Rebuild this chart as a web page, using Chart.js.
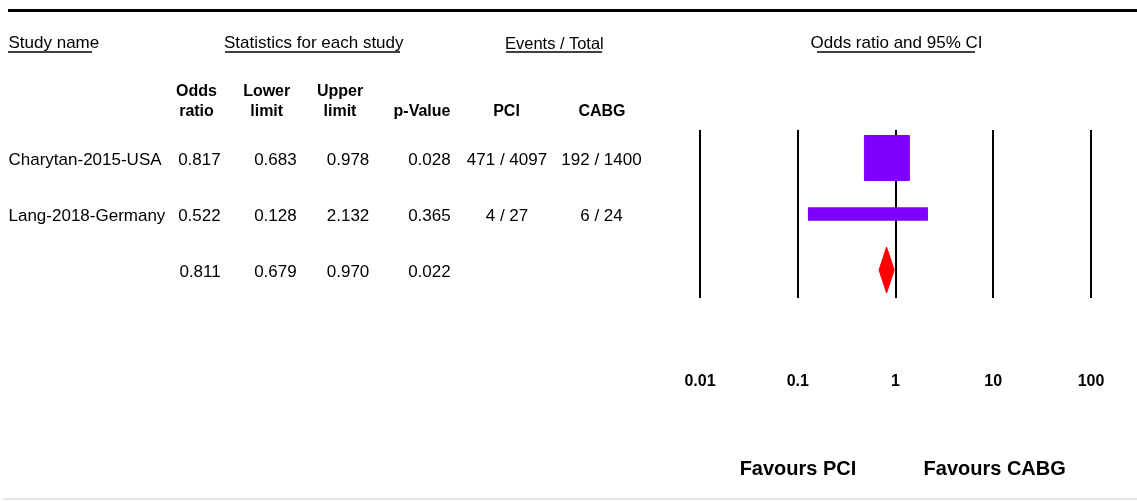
<!DOCTYPE html>
<html>
<head>
<meta charset="utf-8">
<title>Odds ratio forest plot: PCI vs CABG</title>
<script src="https://cdn.jsdelivr.net/npm/chart.js@4.4.1/dist/chart.umd.min.js"></script>
<style>
  html, body { margin: 0; padding: 0; background: #fff; }
  #wrap { position: relative; width: 1137px; height: 501px; overflow: hidden;
          font-family: "Liberation Sans", Arial, sans-serif; color: #000; }
  #plot { position: absolute; left: 0; top: 0; }
  .t { position: absolute; white-space: nowrap; line-height: 1; }
  .rule { position: absolute; }
</style>
</head>
<body>
<div id="wrap"><canvas id="plot" width="1137" height="501"></canvas></div>
<script>
// ---- study-level data ----
const studies     = ['Charytan-2015-USA', 'Lang-2018-Germany'];
const oddsRatio   = [0.817, 0.522];
const lowerLimit  = [0.683, 0.128];
const upperLimit  = [0.978, 2.132];
const pValue      = [0.028, 0.365];
const pciEvents   = [471, 4];
const pciTotal    = [4097, 27];
const cabgEvents  = [192, 6];
const cabgTotal   = [1400, 24];

// ---- pooled (fixed-effect) estimate ----
const pooledOR    = 0.811;
const pooledLower = 0.679;
const pooledUpper = 0.970;
const pooledP     = 0.022;

// ---- axis ----
const axisTicks   = [0.01, 0.1, 1, 10, 100];
const tickLabels  = ['0.01', '0.1', '1', '10', '100'];
const groups      = ['PCI', 'CABG'];

const W = 1137;
const wrap = document.getElementById('wrap');

function put(text, x, cy, opts = {}) {
  const size = opts.size || 17;
  const d = document.createElement('div');
  d.className = 't';
  d.textContent = text;
  d.style.fontSize = size + 'px';
  if (opts.bold) d.style.fontWeight = 'bold';
  d.style.top = (cy - 0.49 * size) + 'px';
  const align = opts.align || 'left';
  if (align === 'left') d.style.left = x + 'px';
  else if (align === 'right') d.style.right = (W - x) + 'px';
  else { d.style.left = x + 'px'; d.style.transform = 'translateX(-50%)'; }
  wrap.appendChild(d);
  return d;
}
function rule(x, y, w, h, color) {
  const d = document.createElement('div');
  d.className = 'rule';
  Object.assign(d.style, { left: x + 'px', top: y + 'px', width: w + 'px', height: h + 'px', background: color });
  wrap.appendChild(d);
}

// frame lines
rule(8, 9, W - 8, 3, '#000');
rule(3, 498, W - 3, 2, '#e4e4e4');

// group headings with underlines
put('Study name', 8.5, 42.8);
rule(8, 50.5, 84, 2, '#404040');
put('Statistics for each study', 224, 42.8);
rule(225, 50.5, 175, 2, '#404040');
put('Events / Total', 505, 42.8, { size: 16.5 });
rule(506, 50.5, 96, 2, '#404040');
put('Odds ratio and 95% CI', 810.5, 42.8);
rule(817, 50.5, 158, 2, '#404040');

// column headings
const hb = { bold: true, size: 16, align: 'center' };
put('Odds', 196.5, 91, hb);  put('ratio', 196.5, 111, hb);
put('Lower', 266.7, 91, hb); put('limit', 266.7, 111, hb);
put('Upper', 340, 91, hb);   put('limit', 340, 111, hb);
put('p-Value', 422, 111, hb);
put(groups[0], 506.5, 111, hb);
put(groups[1], 602, 111, hb);

// table rows
const rowY = [159, 215.3, 271];
const r3 = v => v.toFixed(3);
studies.forEach((name, i) => {
  const y = rowY[i];
  put(name, 8.5, y);
  put(r3(oddsRatio[i]), 220.7, y, { align: 'right' });
  put(r3(lowerLimit[i]), 296.7, y, { align: 'right' });
  put(r3(upperLimit[i]), 369.3, y, { align: 'right' });
  put(r3(pValue[i]), 450.7, y, { align: 'right' });
  put(pciEvents[i] + ' / ' + pciTotal[i], 507, y, { align: 'center' });
  put(cabgEvents[i] + ' / ' + cabgTotal[i], 601.5, y, { align: 'center' });
});
put(r3(pooledOR), 220.7, rowY[2], { align: 'right' });
put(r3(pooledLower), 296.7, rowY[2], { align: 'right' });
put(r3(pooledUpper), 369.3, rowY[2], { align: 'right' });
put(r3(pooledP), 450.7, rowY[2], { align: 'right' });

// favours labels under the axis
put('Favours ' + groups[0], 798, 467.8, { bold: true, size: 20, align: 'center' });
put('Favours ' + groups[1], 994.7, 467.8, { bold: true, size: 20, align: 'center' });

// ---- forest plot ----
const nRows = studies.length + 1;
const rowOf = i => i + 0.5;
const pooledRow = rowOf(studies.length);
const diamondHalf = 0.41;   // half height of the summary diamond, in row units

new Chart(document.getElementById('plot'), {
  type: 'bar',
  data: {
    datasets: [
      {
        // study weight squares
        type: 'scatter',
        data: studies.map((s, i) => ({ x: oddsRatio[i], y: rowOf(i) })),
        pointStyle: 'rect',
        pointRadius: [31.8, 4.5],
        backgroundColor: '#8000ff',
        borderColor: '#8000ff',
        borderWidth: 1
      },
      {
        // 95% confidence intervals
        type: 'bar',
        data: studies.map((s, i) => ({ x: [lowerLimit[i], upperLimit[i]], y: rowOf(i) })),
        backgroundColor: '#8000ff',
        borderWidth: 0,
        barThickness: 13
      },
      {
        // pooled estimate diamond
        type: 'scatter',
        showLine: true,
        fill: 'shape',
        data: [
          { x: pooledLower, y: pooledRow },
          { x: pooledOR,    y: pooledRow - diamondHalf },
          { x: pooledUpper, y: pooledRow },
          { x: pooledOR,    y: pooledRow + diamondHalf },
          { x: pooledLower, y: pooledRow }
        ],
        backgroundColor: '#ff0000',
        borderColor: '#ff0000',
        borderWidth: 1,
        pointRadius: 0,
        tension: 0
      }
    ]
  },
  options: {
    indexAxis: 'y',
    responsive: false,
    animation: false,
    devicePixelRatio: 1,
    events: [],
    layout: { padding: { left: 700, right: 46, top: 130, bottom: 0 } },
    plugins: { legend: { display: false }, tooltip: { enabled: false } },
    scales: {
      x: {
        type: 'logarithmic',
        min: axisTicks[0],
        max: axisTicks[axisTicks.length - 1],
        offset: false,
        afterBuildTicks: s => { s.ticks = axisTicks.map(v => ({ value: v })); },
        afterFit: s => { s.height = 203; },
        // invisible tick marks push the labels well below the plot
        grid: { color: '#000', lineWidth: 2, drawTicks: true, tickLength: 74,
                tickColor: 'rgba(0,0,0,0)', offset: false },
        border: { display: false },
        ticks: {
          padding: 0,
          color: '#000',
          autoSkip: false,
          maxRotation: 0,
          font: { family: 'Liberation Sans', size: 16, weight: 'bold' },
          callback: (v, i) => tickLabels[i]
        }
      },
      y: { type: 'linear', min: 0, max: nRows, reverse: true, display: false, offset: false }
    }
  }
});
</script>
</body>
</html>
